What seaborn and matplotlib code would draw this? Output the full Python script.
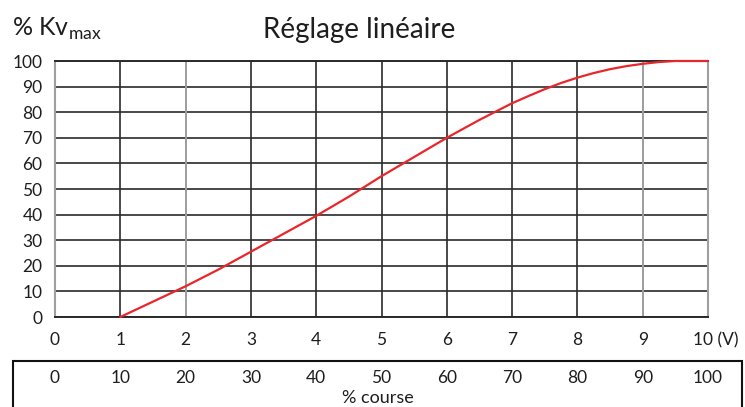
import matplotlib
matplotlib.use("Agg")
import matplotlib.pyplot as plt
import matplotlib.transforms as mtransforms
import seaborn as sns
import pandas as pd

# ---- data ----
volts = [1, 1.5, 2, 2.5, 3, 3.5, 4, 4.5, 5, 5.5, 6, 6.5, 7, 7.25, 7.5, 7.75, 8, 8.25,
         8.5, 8.75, 9, 9.25, 9.5, 9.75, 10]
kv_pct = [0, 6, 12, 18.5, 25.5, 32.5, 39.5, 47, 55, 62.5, 70, 77, 83.5, 86.3, 89, 91.4,
          93.5, 95.3, 96.8, 98.0, 98.9, 99.6, 100, 100, 100]
volt_ticks = [0, 1, 2, 3, 4, 5, 6, 7, 8, 9, 10]
volt_labels = ["0", "1", "2", "3", "4", "5", "6", "7", "8", "9", "10 (V)"]
kv_ticks = [0, 10, 20, 30, 40, 50, 60, 70, 80, 90, 100]
course_ticks = [0, 10, 20, 30, 40, 50, 60, 70, 80, 90, 100]
title = "Réglage linéaire"
ylabel = "% Kv"
ylabel_sub = "max"
course_label = "% course"

sns.set_theme(style="white")
FONT = "Lato"
plt.rcParams["font.family"] = [FONT, "DejaVu Sans"]
plt.rcParams["mathtext.fontset"] = "custom"
plt.rcParams["mathtext.rm"] = FONT
TXT = "#1e1e1e"

W, H = 745, 407
fig = plt.figure(figsize=(W / 100, H / 100), dpi=100)
ax = fig.add_axes([55 / W, 1 - 317 / H, (708 - 55) / W, (317 - 61) / H])

df = pd.DataFrame({"V": volts, "Kv": kv_pct})
sns.lineplot(data=df, x="V", y="Kv", ax=ax, color="#e8262b", linewidth=1.6, zorder=5,
             clip_on=False)

ax.set_xlim(0, 10)
ax.set_ylim(0, 100)
ax.set_xticks(volt_ticks)
ax.set_xticklabels(volt_labels)
ax.set_yticks(kv_ticks)
ax.set_xlabel("")
ax.set_ylabel("")
ax.grid(True, color="#2a2a2a", linewidth=1.2)
ax.set_axisbelow(True)
# lighter (scan-like) verticals
for xv in [2, 9]:
    ax.axvline(xv, color="#a8a8a8", linewidth=1.3, zorder=1.5)
ax.tick_params(axis="both", length=0, labelsize=12.5, colors=TXT)
ax.tick_params(axis="y", pad=9)
ax.tick_params(axis="x", pad=11)
# shift the last label ("10 (V)") so that it sits like the reference
last = ax.get_xticklabels()[-1]
last.set_transform(last.get_transform() + mtransforms.ScaledTranslation(8 / 100, 0, fig.dpi_scale_trans))
for s in ["top", "bottom"]:
    ax.spines[s].set_color("#2a2a2a")
    ax.spines[s].set_linewidth(1.4)
for s in ["left", "right"]:
    ax.spines[s].set_color("#a0a0a0")
    ax.spines[s].set_linewidth(1.5)

trans_x = mtransforms.blended_transform_factory(ax.transData, fig.transFigure)

# title and y label
fig.text(359 / W, 1 - 30 / H, title, ha="center", va="center", fontsize=20, color=TXT)
fig.text(12 / W, 1 - 29 / H, ylabel + r"$_{\mathregular{" + ylabel_sub + "}}$", ha="left",
         va="center", fontsize=18, color=TXT)

# course box
box = plt.Rectangle((13 / W, -0.05), (742 - 13) / W, (1 - 361 / H) + 0.05,
                    transform=fig.transFigure, fill=False, edgecolor="#111111",
                    linewidth=1.5, clip_on=False)
fig.add_artist(box)
for p in course_ticks:
    ax.text(p / 10, 1 - 378 / H, str(p), transform=trans_x, ha="center", va="center",
            fontsize=12.5, color=TXT)
fig.text(378 / W, 1 - 398 / H, course_label, ha="center", va="center", fontsize=13, color=TXT)

fig.savefig("out.png", dpi=100)
